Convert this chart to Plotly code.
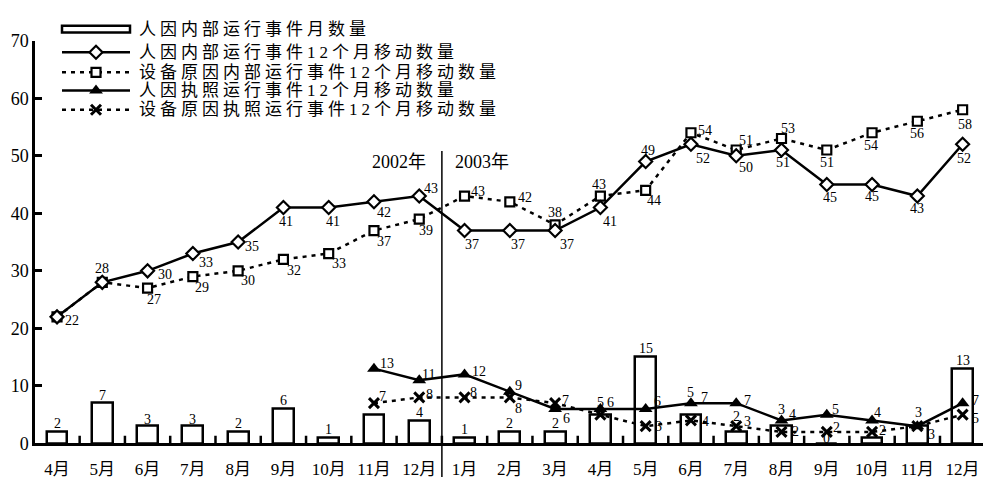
import plotly.graph_objects as go

# ---- data -------------------------------------------------------------
months = ["4月", "5月", "6月", "7月", "8月", "9月", "10月", "11月", "12月",
          "1月", "2月", "3月", "4月", "5月", "6月", "7月", "8月", "9月", "10月", "11月", "12月"]

monthly_human_internal = [2, 7, 3, 3, 2, 6, 1, 5, 4, 1, 2, 2, 5, 15, 5, 2, 3, 0, 1, 3, 13]
rolling_human_internal = [22, 28, 30, 33, 35, 41, 41, 42, 43, 37, 37, 37, 41, 49, 52, 50, 51, 45, 45, 43, 52]
rolling_equipment_internal = [22, 28, 27, 29, 30, 32, 33, 37, 39, 43, 42, 38, 43, 44, 54, 51, 53, 51, 54, 56, 58]
rolling_human_licensed = [None] * 7 + [13, 11, 12, 9, 6, 6, 6, 7, 7, 4, 5, 4, 3, 7]
rolling_equipment_licensed = [None] * 7 + [7, 8, 8, 8, 7, 5, 3, 4, 3, 2, 2, 2, 3, 5]

series_names = ["人因内部运行事件月数量",
                "人因内部运行事件12个月移动数量",
                "设备原因内部运行事件12个月移动数量",
                "人因执照运行事件12个月移动数量",
                "设备原因执照运行事件12个月移动数量"]

year_labels = ["2002年", "2003年"]
y_ticks = [0, 10, 20, 30, 40, 50, 60, 70]

# ---- styling -----------------------------------------------------------
W, H = 983, 487
PLOT_BOTTOM, PLOT_TOP = 35, 32          # pixel margins of the main plot area
Y_RANGE = [0, 70]
PX_PER_UNIT = (H - PLOT_BOTTOM - PLOT_TOP) / (Y_RANGE[1] - Y_RANGE[0])
SERIF = "Liberation Serif, 'Noto Sans CJK SC', serif"
LABEL_FONT = dict(family=SERIF, size=14, color="black")
DASH = "4px,5px"
X_RANGE = [-0.486, 20.45]
BOUNDARY_TICK_PX = 8

idx = list(range(len(months)))

# value-label offsets in pixels (dx, dy) from each point; None = no label
off_bar = [(0, 8), (0, 8), (0, 7), (0, 7), (0, 8), (0, 8), (0, 8), None, (0, 8),
           (0, 8), (0, 8), (0, 8), (0, 12), (0, 9), (0, 22), (0, 15), (0, 17), (0, 5),
           None, None, (0, 8)]
off_diamond = [(15, -4), (0, 14), (17, -4), (13, -9), (14, -4), (3, -14), (4, -14), (10, -11),
               (12, 8), (7, -14), (8, -14), (12, -14), (10, -14), (2, 11), (12, -14),
               (10, -12), (1, -12), (3, -13), (0, -12), (0, -12), (1, -14)]
off_square = [None, None, (6, -11), (9, -11), (10, -10), (11, -11), (10, -10), (10, -11),
              (7, -11), (13, 5), (15, 4), (0, 12), (-1, 12), (8, -10), (14, 2), (10, 10),
              (6, 10), (0, -12), (-1, -13), (0, -12), (2, -15)]
off_triangle = [None] * 7 + [(13, 5), (9, 6), (14, 3), (9, 6), (11, -10), (10, 6), (12, 7),
                             (14, 6), (11, 3), (11, 6), (9, 5), (5, 8), (1, 14), (13, 3)]
off_cross = [None] * 7 + [(9, 7), (10, 3), (9, 5), (9, -11), (10, 3), None, (13, 0),
                          (15, -1), (11, 5), (14, 0), (10, 4), (10, 1), (14, -8), (13, -4)]


def value_labels(values, offsets):
    out = []
    for i, (v, off) in enumerate(zip(values, offsets)):
        if v is None or off is None:
            continue
        out.append(dict(xref="x", yref="y", x=i, y=v, text=str(v), showarrow=False,
                        xanchor="center", yanchor="middle", xshift=off[0], yshift=off[1],
                        font=LABEL_FONT))
    return out


fig = go.Figure()

# short upward ticks on the x axis at the month boundaries
tick_x, tick_y = [], []
for i in idx[:-1]:
    tick_x += [i + 0.5, i + 0.5, None]
    tick_y += [Y_RANGE[0], Y_RANGE[0] + BOUNDARY_TICK_PX / PX_PER_UNIT, None]
fig.add_trace(go.Scatter(x=tick_x, y=tick_y, mode="lines",
                         line=dict(color="black", width=2.5),
                         showlegend=False, hoverinfo="skip"))

fig.add_trace(go.Bar(
    x=idx, y=monthly_human_internal, width=0.46,
    marker=dict(color="white", line=dict(color="black", width=2.5)),
    cliponaxis=False, showlegend=False, hoverinfo="y"))

fig.add_trace(go.Scatter(
    x=idx, y=rolling_equipment_internal, mode="lines+markers",
    line=dict(color="black", width=2.5, dash=DASH),
    marker=dict(symbol="square", size=9, color="white", line=dict(color="black", width=2.2)),
    cliponaxis=False, showlegend=False))

fig.add_trace(go.Scatter(
    x=idx, y=rolling_human_internal, mode="lines+markers",
    line=dict(color="black", width=2.5),
    marker=dict(symbol="diamond", size=10, color="white", line=dict(color="black", width=2.2)),
    cliponaxis=False, showlegend=False))

fig.add_trace(go.Scatter(
    x=idx, y=rolling_equipment_licensed, mode="lines+markers",
    line=dict(color="black", width=2.5, dash=DASH),
    marker=dict(symbol="x-thin", size=10, color="black", line=dict(color="black", width=3)),
    cliponaxis=False, showlegend=False))

fig.add_trace(go.Scatter(
    x=idx, y=rolling_human_licensed, mode="lines+markers",
    line=dict(color="black", width=2.5),
    marker=dict(symbol="triangle-up", size=12, color="black"),
    cliponaxis=False, showlegend=False))

annotations = []
annotations += value_labels(monthly_human_internal, off_bar)
annotations += value_labels(rolling_equipment_internal, off_square)
annotations += value_labels(rolling_human_internal, off_diamond)
annotations += value_labels(rolling_equipment_licensed, off_cross)
annotations += value_labels(rolling_human_licensed, off_triangle)

shapes = []

# ---- legend drawn on a full-figure pixel axis --------------------------
leg_rows = [20, 44, 65, 84, 104]
leg_x0, leg_x1, leg_text_x = 62, 130, 137
leg_mid = (leg_x0 + leg_x1) / 2
leg_styles = [
    None,
    dict(dash="solid", marker=dict(symbol="diamond", size=10, color="white",
                                   line=dict(color="black", width=2.2))),
    dict(dash=DASH, marker=dict(symbol="square", size=9, color="white",
                                line=dict(color="black", width=2.2))),
    dict(dash="solid", marker=dict(symbol="triangle-up", size=12, color="black")),
    dict(dash=DASH, marker=dict(symbol="x-thin", size=10, color="black",
                                line=dict(color="black", width=3))),
]
for row, name, st in zip(leg_rows, series_names, leg_styles):
    if st is None:
        shapes.append(dict(type="rect", xref="x2", yref="y2", x0=leg_x0, x1=leg_x1,
                           y0=row - 3.5, y1=row + 3.5, line=dict(color="black", width=2.5),
                           fillcolor="white"))
    else:
        fig.add_trace(go.Scatter(x=[leg_x0, leg_x1], y=[row, row], mode="lines",
                                 line=dict(color="black", width=2.5, dash=st["dash"]),
                                 xaxis="x2", yaxis="y2", showlegend=False, hoverinfo="skip"))
        fig.add_trace(go.Scatter(x=[leg_mid], y=[row], mode="markers", marker=st["marker"],
                                 xaxis="x2", yaxis="y2", showlegend=False, hoverinfo="skip"))
    annotations.append(dict(xref="x2", yref="y2", x=leg_text_x, y=row,
                            text='<span style="letter-spacing:4px">' + name + '</span>',
                            showarrow=False, xanchor="left", yanchor="middle",
                            font=dict(family=SERIF, size=17, color="black")))

# year divider between Dec 2002 and Jan 2003
divider = 8.5
shapes.append(dict(type="line", xref="x", yref="paper", x0=divider, x1=divider,
                   y0=0, y1=(H - 147) / H, line=dict(color="black", width=1.5)))
annotations.append(dict(xref="x", yref="paper", x=divider, y=(H - 158) / H, text=year_labels[0],
                        showarrow=False, xanchor="right", xshift=-14, yanchor="middle",
                        font=dict(family=SERIF, size=18, color="black")))
annotations.append(dict(xref="x", yref="paper", x=divider, y=(H - 158) / H, text=year_labels[1],
                        showarrow=False, xanchor="left", xshift=11, yanchor="middle",
                        font=dict(family=SERIF, size=18, color="black")))

fig.update_layout(
    width=W, height=H,
    margin=dict(l=0, r=0, t=0, b=0),
    paper_bgcolor="white", plot_bgcolor="rgba(0,0,0,0)",
    font=dict(family=SERIF, color="black"),
    showlegend=False,
    bargap=0,
    shapes=shapes,
    annotations=annotations,
    xaxis=dict(domain=[35 / W, 1], range=X_RANGE,
               tickmode="array", tickvals=idx, ticktext=months,
               ticks="", ticklabelstandoff=8,
               showline=True, linecolor="black", linewidth=2.5,
               tickfont=dict(family=SERIF, size=17, color="black"),
               showgrid=False, zeroline=False, fixedrange=True, anchor="y"),
    yaxis=dict(domain=[PLOT_BOTTOM / H, 1 - PLOT_TOP / H], range=Y_RANGE,
               tickmode="array", tickvals=y_ticks,
               ticks="inside", ticklen=7, tickwidth=2.5, tickcolor="black",
               showline=True, linecolor="black", linewidth=2.5,
               tickfont=dict(family=SERIF, size=18, color="black"),
               showgrid=False, zeroline=False, fixedrange=True, anchor="x"),
    xaxis2=dict(domain=[0, 1], range=[0, W], visible=False, anchor="y2", fixedrange=True),
    yaxis2=dict(domain=[0, 1], range=[H, 0], visible=False, anchor="x2", fixedrange=True),
)

fig.write_html("out.html")
